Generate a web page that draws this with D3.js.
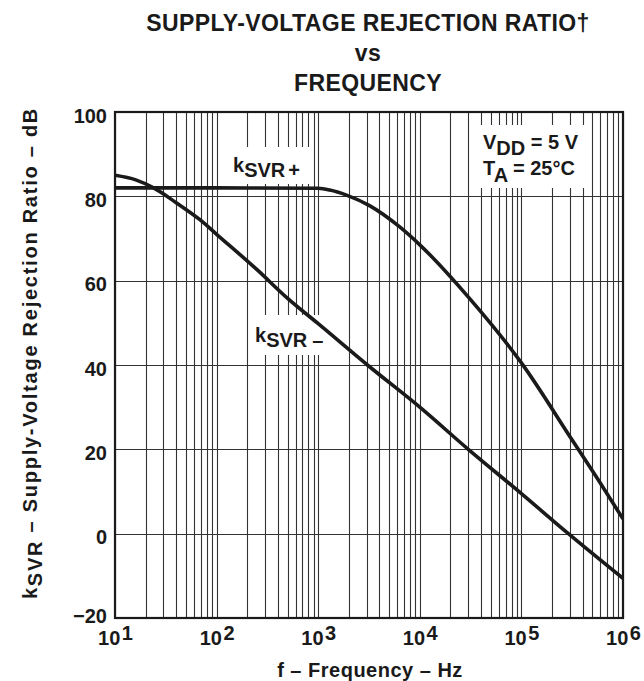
<!DOCTYPE html>
<html><head><meta charset="utf-8">
<script src="https://cdn.jsdelivr.net/npm/d3@7"></script>
<style>
body{margin:0;background:#fff;}
text{font-family:"Liberation Sans",Arial,Helvetica,sans-serif;font-weight:bold;fill:#1a1a1a;}
</style></head><body>
<svg id="chart" width="644" height="681"></svg>
<script>
// Title and axis text
const titleLines = ["SUPPLY-VOLTAGE REJECTION RATIO\u2020", "vs", "FREQUENCY"];
const xTickValues = [1e1, 1e2, 1e3, 1e4, 1e5, 1e6];
const xTickExponents = ["1", "2", "3", "4", "5", "6"];
const yTickValues = [100, 80, 60, 40, 20, 0, -20];

// kSVR+ (positive supply) rejection, Hz / dB
const plusFreq = [10, 100, 1000, 1300, 1900, 3200, 6300, 10000, 31600, 100000, 316000, 562000, 1000000];
const plusDb   = [82, 82, 81.9, 81.5, 80.3, 77.8, 72.8, 68.5, 55.5, 40.5, 22.2, 13, 3.5];

// kSVR- (negative supply) rejection, Hz / dB
const minusFreq = [10, 16, 24, 40, 69, 100, 250, 500, 1000, 3160, 10000, 30000, 100000, 290000, 1000000];
const minusDb   = [85, 83.9, 82, 78.5, 74.4, 71, 62.6, 55.8, 49.8, 39.7, 30, 20, 9.5, 0, -10.6];

const svg = d3.select("#chart");
const plotLeft = 115, plotRight = 623, plotTop = 112, plotBottom = 618;

const x = d3.scaleLog().domain([10, 1e6]).range([plotLeft, plotRight]);
const y = d3.scaleLinear().domain([-20, 100]).range([plotBottom, plotTop]);

// Title
svg.append("g").selectAll("text").data(titleLines).join("text")
  .attr("x", 368).attr("y", (d, i) => 31 + i * 30)
  .attr("text-anchor", "middle").style("font-size", "23px").style("letter-spacing", "0.4px")
  .text(d => d);

// Grid: vertical lines at every 1..9 x 10^n, horizontal at the y ticks
const grid = svg.append("g").attr("stroke", "#333").attr("stroke-width", 1.1);
grid.selectAll("line.v").data(x.ticks()).join("line")
  .attr("x1", d => Math.round(x(d)) + 0.5).attr("x2", d => Math.round(x(d)) + 0.5)
  .attr("y1", plotTop).attr("y2", plotBottom);
grid.selectAll("line.h").data(yTickValues).join("line")
  .attr("y1", d => Math.round(y(d)) + 0.5).attr("y2", d => Math.round(y(d)) + 0.5)
  .attr("x1", plotLeft).attr("x2", plotRight);

// White backing behind the in-plot labels
const boxes = [[229, 147, 83, 37], [250, 315, 78, 40], [470, 125, 118, 63]];
svg.append("g").selectAll("rect").data(boxes).join("rect")
  .attr("x", d => d[0]).attr("y", d => d[1]).attr("width", d => d[2]).attr("height", d => d[3])
  .attr("fill", "#fff");

// Curves
const line = d3.line().x(d => x(d[0])).y(d => y(d[1])).curve(d3.curveMonotoneX);
const plusPts = plusFreq.map((f, i) => [f, plusDb[i]]);
const minusPts = minusFreq.map((f, i) => [f, minusDb[i]]);
svg.append("defs").append("clipPath").attr("id", "plotclip")
  .append("rect").attr("x", plotLeft).attr("y", plotTop)
  .attr("width", plotRight - plotLeft).attr("height", plotBottom - plotTop);
const curves = svg.append("g").attr("clip-path", "url(#plotclip)");
[plusPts, minusPts].forEach(pts => {
  curves.append("path").datum(pts).attr("d", line)
    .attr("fill", "none").attr("stroke", "#1a1a1a").attr("stroke-width", 3.6)
    .attr("stroke-linejoin", "round");
});

// Frame
svg.append("rect").attr("x", plotLeft).attr("y", plotTop)
  .attr("width", plotRight - plotLeft).attr("height", plotBottom - plotTop)
  .attr("fill", "none").attr("stroke", "#1a1a1a").attr("stroke-width", 2.2);

// Y axis tick labels (the bottom one sits a little higher, clear of the x labels)
const yAxis = d3.axisLeft(y).tickValues(yTickValues).tickSize(0).tickPadding(8)
  .tickFormat(d => d < 0 ? "\u2212" + Math.abs(d) : String(d));
const yg = svg.append("g").attr("transform", `translate(${plotLeft},0)`).call(yAxis);
yg.select(".domain").remove();
yg.selectAll("text").attr("dy", d => d === -20 ? "0.2em" : "0.5em").style("font-size", "20px")
  .style("font-family", '"Liberation Sans",Arial,sans-serif').style("font-weight", "bold").attr("fill", "#1a1a1a");

// X axis tick labels: 10 with raised exponent
const xAxis = d3.axisBottom(x).tickValues(xTickValues).tickSize(0).tickFormat(() => "");
const xg = svg.append("g").attr("transform", `translate(0,${plotBottom})`).call(xAxis);
xg.select(".domain").remove();
xg.selectAll(".tick text").each(function(d, i) {
  const t = d3.select(this).text(null).attr("y", 27).attr("dy", 0)
    .attr("text-anchor", "middle").attr("fill", "#1a1a1a")
    .style("font-size", "20px").style("font-family", '"Liberation Sans",Arial,sans-serif').style("font-weight", "bold");
  t.append("tspan").text("10");
  t.append("tspan").attr("dx", 1.5).attr("dy", -5).text(xTickExponents[i]);
});

// X axis title
svg.append("text").attr("x", 370).attr("y", 677).attr("text-anchor", "middle")
  .style("font-size", "20px").style("letter-spacing", "0.5px")
  .text("f \u2013 Frequency \u2013 Hz");

// Y axis title
const yt = svg.append("text").attr("transform", "translate(37,353) rotate(-90)")
  .attr("text-anchor", "middle").style("font-size", "20px").style("letter-spacing", "1.75px");
yt.append("tspan").text("k");
yt.append("tspan").attr("dy", 5).text("SVR");
yt.append("tspan").attr("dy", -5).text(" \u2013 Supply-Voltage Rejection Ratio \u2013 dB");

// Curve labels
function subLabel(px, py, main, sub, tail, tailDx) {
  const t = svg.append("text").attr("x", px).attr("y", py).style("font-size", "20px");
  t.append("tspan").text(main);
  t.append("tspan").attr("dy", 5).text(sub);
  t.append("tspan").attr("dx", tailDx).text(tail);
}
subLabel(233, 172, "k", "SVR", "+", 3);
subLabel(255, 342, "k", "SVR", "\u2013", 5);

// Conditions
const c1 = svg.append("text").attr("x", 483).attr("y", 149).style("font-size", "20px");
c1.append("tspan").text("V");
c1.append("tspan").attr("dy", 6).text("DD");
c1.append("tspan").attr("dy", -6).text(" = 5 V");
const c2 = svg.append("text").attr("x", 483).attr("y", 175).style("font-size", "20px");
c2.append("tspan").text("T");
c2.append("tspan").attr("dy", 6.5).text("A");
c2.append("tspan").attr("dy", -6.5).text(" = 25\u00B0C");
</script>
</body></html>
